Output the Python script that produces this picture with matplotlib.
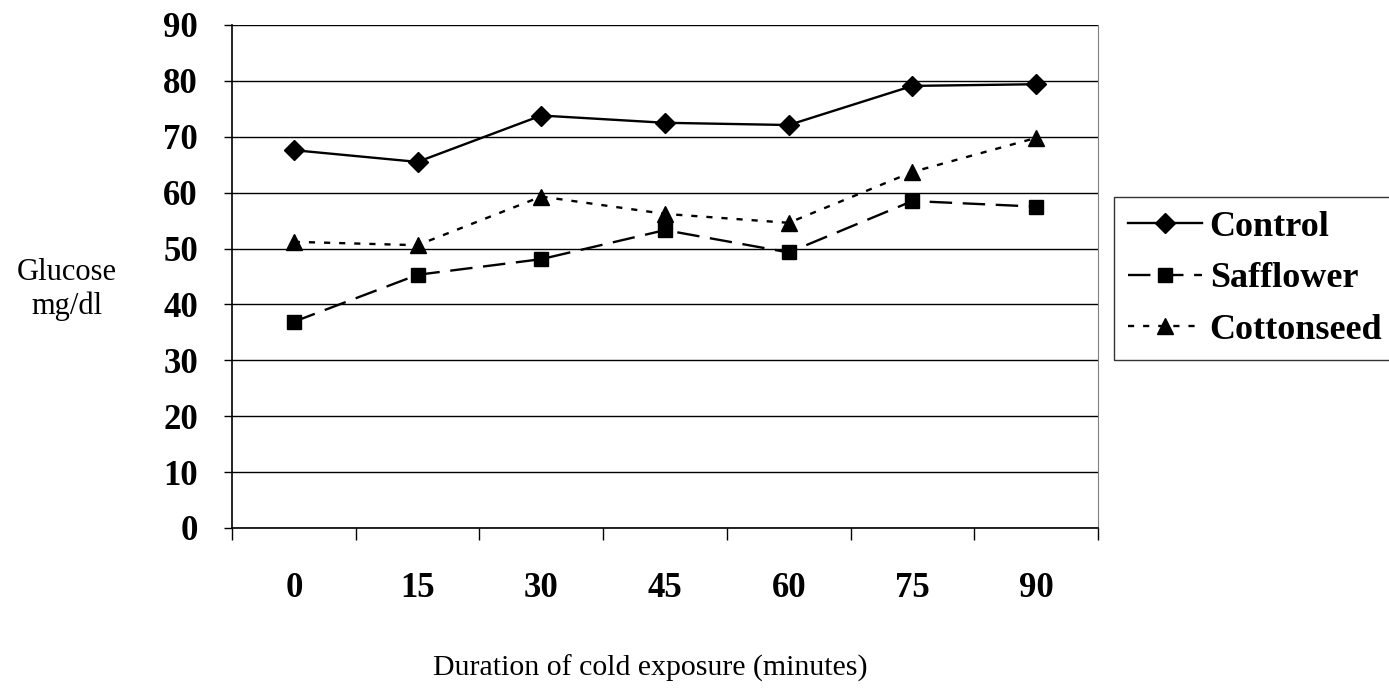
import matplotlib.pyplot as plt
import numpy as np

plt.rcParams['font.family'] = ['Liberation Serif', 'DejaVu Serif']

minutes = ['0', '15', '30', '45', '60', '75', '90']
control = [67.6, 65.5, 73.8, 72.5, 72.1, 79.1, 79.4]
safflower = [36.9, 45.3, 48.1, 53.3, 49.3, 58.5, 57.5]
cottonseed = [51.2, 50.6, 59.3, 56.2, 54.6, 63.7, 69.8]

fig = plt.figure(figsize=(13.89, 6.90), dpi=100)
ax = fig.add_axes([0.167, 0.2348, 0.6235, 0.729])

x = np.arange(len(minutes))
ax.plot(x, control, color='black', lw=1.7, marker='D', markersize=10.5, label='Control')
ax.plot(x, safflower, color='black', lw=1.7, marker='s', markersize=10.5,
        dashes=(9.5, 4.5), label='Safflower')
ax.plot(x, cottonseed, color='black', lw=1.7, marker='^', markersize=11,
        dashes=(2.6, 3.8), label='Cottonseed')

ax.set_xlim(-0.5, len(minutes) - 0.5)
ax.set_ylim(0, 90)
ax.set_yticks(range(0, 91, 10))
ax.yaxis.grid(True, color='black', lw=1)
ax.set_axisbelow(True)

# category boundaries carry the tick marks, labels sit at the centres
ax.set_xticks(np.arange(-0.5, len(minutes), 1.0))
ax.set_xticklabels([])
ax.set_xticks(x, minor=True)
ax.set_xticklabels(minutes, minor=True)
ax.tick_params(axis='x', which='major', direction='out', length=8.6, width=1)
ax.tick_params(axis='x', which='minor', length=0, pad=31.5, labelsize=25)
ax.tick_params(axis='y', direction='out', length=5.5, width=1, pad=19, labelsize=25)
for lbl in ax.get_xticklabels(minor=True) + ax.get_yticklabels():
    lbl.set_fontweight('bold')

ax.spines['top'].set_visible(False)
ax.spines['right'].set_color('#808080')
ax.spines['left'].set_linewidth(1.2)
ax.spines['bottom'].set_linewidth(1.2)

fig.text(0.048, 0.580, 'Glucose\nmg/dl', ha='center', va='center', fontsize=22,
         linespacing=1.2)
fig.text(0.468, 0.032, 'Duration of cold exposure (minutes)', ha='center',
         va='center', fontsize=21.5)

leg = ax.legend(loc='upper left', prop={'weight': 'bold', 'size': 26}, frameon=True,
                fancybox=False, handlelength=2.05, handletextpad=0.22, borderpad=0.38,
                labelspacing=0.5, borderaxespad=0)
leg.get_frame().set_edgecolor('black')
leg.get_frame().set_linewidth(1)
leg.set_bbox_to_anchor((1114 / 1389, 1 - 197 / 690), transform=fig.transFigure)

fig.savefig('out.png', dpi=100)
